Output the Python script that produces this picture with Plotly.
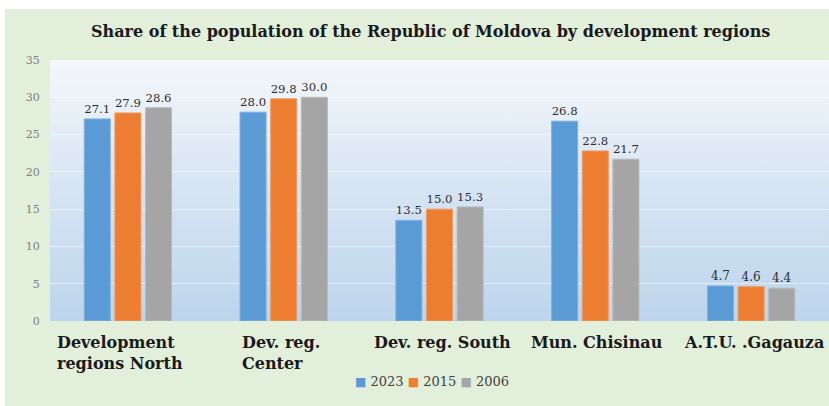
import base64
import plotly.graph_objects as go

categories = ["Development regions North", "Dev. reg. Center", "Dev. reg. South", "Mun. Chisinau", "A.T.U. .Gagauza"]
label_lines = ["Development<br>regions North", "Dev. reg.<br>Center", "Dev. reg. South", "Mun. Chisinau", "A.T.U. .Gagauza"]
years = ["2023", "2015", "2006"]
values_2023 = [27.1, 28.0, 13.5, 26.8, 4.7]
values_2015 = [27.9, 29.8, 15.0, 22.8, 4.6]
values_2006 = [28.6, 30.0, 15.3, 21.7, 4.4]
y_ticks = [0, 5, 10, 15, 20, 25, 30, 35]

series = [values_2023, values_2015, values_2006]
colors = ["#5B9BD5", "#ED7D31", "#A5A5A5"]
edge = ["#7FB1E0", "#F39A5E", "#B9B9B9"]

W, H = 829, 406
L, R, T, B = 50, 0, 60, 85
pw = W - L - R
ph = H - T - B

def px_x(p):
    return (p - L) / pw

def px_y(p):
    return (H - B - p) / ph

serif = "DejaVu Serif"

x_idx = list(range(len(categories)))

fig = go.Figure()
for name, vals, c, e in zip(years, series, colors, edge):
    fig.add_trace(go.Bar(
        x=x_idx, y=vals, name=name,
        marker=dict(color=c, line=dict(color=e, width=1)),
        text=[f"{v:.1f}" for v in vals], textposition="outside",
        textfont=dict(family=serif, size=12, color="#2e2e2e"),
        cliponaxis=False, showlegend=False,
    ))

svg = ('<svg xmlns="http://www.w3.org/2000/svg" width="100" height="100" preserveAspectRatio="none">'
       '<defs><linearGradient id="g" x1="0" y1="0" x2="0" y2="1">'
       '<stop offset="0" stop-color="#F4F7FB"/><stop offset="0.5" stop-color="#D6E4F3"/>'
       '<stop offset="1" stop-color="#BCD5EC"/></linearGradient></defs>'
       '<rect width="100" height="100" fill="url(#g)"/></svg>')
uri = "data:image/svg+xml;base64," + base64.b64encode(svg.encode()).decode()

shifts = [-73, -44, -68, -66, -69]
annotations = []
for i, (lab, s) in enumerate(zip(label_lines, shifts)):
    annotations.append(dict(
        x=i, y=px_y(331), xref="x", yref="paper", text=lab, showarrow=False,
        xanchor="left", yanchor="top", align="left", xshift=s,
        font=dict(family=serif, size=16, color="#1a1a1a", weight="bold"),
    ))
annotations.append(dict(
    x=px_x(430), y=px_y(32), xref="paper", yref="paper", xanchor="center", yanchor="middle",
    text="<b>Share of the population of the Republic of Moldova by development regions</b>",
    showarrow=False, font=dict(family=serif, size=16, color="#1a1a1a"),
))
legend_text = " ".join(
    f"<span style='color:{c};font-size:12px'>■</span> {y}" for y, c in zip(years, colors)
)
annotations.append(dict(
    x=px_x(432), y=px_y(381), xref="paper", yref="paper", xanchor="center", yanchor="middle",
    text=legend_text, showarrow=False, font=dict(family=serif, size=13, color="#404040"),
))

shapes = [
    dict(type="rect", xref="paper", yref="paper", x0=px_x(-10), x1=px_x(W + 10), y0=px_y(9), y1=px_y(-10),
         fillcolor="white", line=dict(width=0), layer="below"),
    dict(type="rect", xref="paper", yref="paper", x0=px_x(-10), x1=px_x(5), y0=px_y(H + 10), y1=px_y(-10),
         fillcolor="white", line=dict(width=0), layer="below"),
]

fig.update_layout(
    width=W, height=H,
    margin=dict(l=L, r=R, t=T, b=B),
    font=dict(family=serif),
    paper_bgcolor="#E2EFDA",
    plot_bgcolor="rgba(0,0,0,0)",
    barmode="group", bargap=0.41, bargroupgap=0.15,
    showlegend=False,
    xaxis=dict(range=[-0.5, len(categories) - 0.5], showticklabels=False, showgrid=False,
               zeroline=False, showline=False, ticks=""),
    yaxis=dict(range=[0, 35], tickvals=y_ticks, showgrid=True, gridcolor="rgba(255,255,255,0.55)",
               gridwidth=1, zeroline=False, showline=False, ticks="outside", ticklen=7,
               tickcolor="rgba(0,0,0,0)",
               tickfont=dict(family=serif, size=11, color="#7F7F7F")),
    images=[dict(source=uri, xref="paper", yref="paper", x=0, y=1, sizex=1, sizey=1,
                 xanchor="left", yanchor="top", sizing="stretch", layer="below")],
    annotations=annotations,
    shapes=shapes,
)

fig.write_html("out.html")
